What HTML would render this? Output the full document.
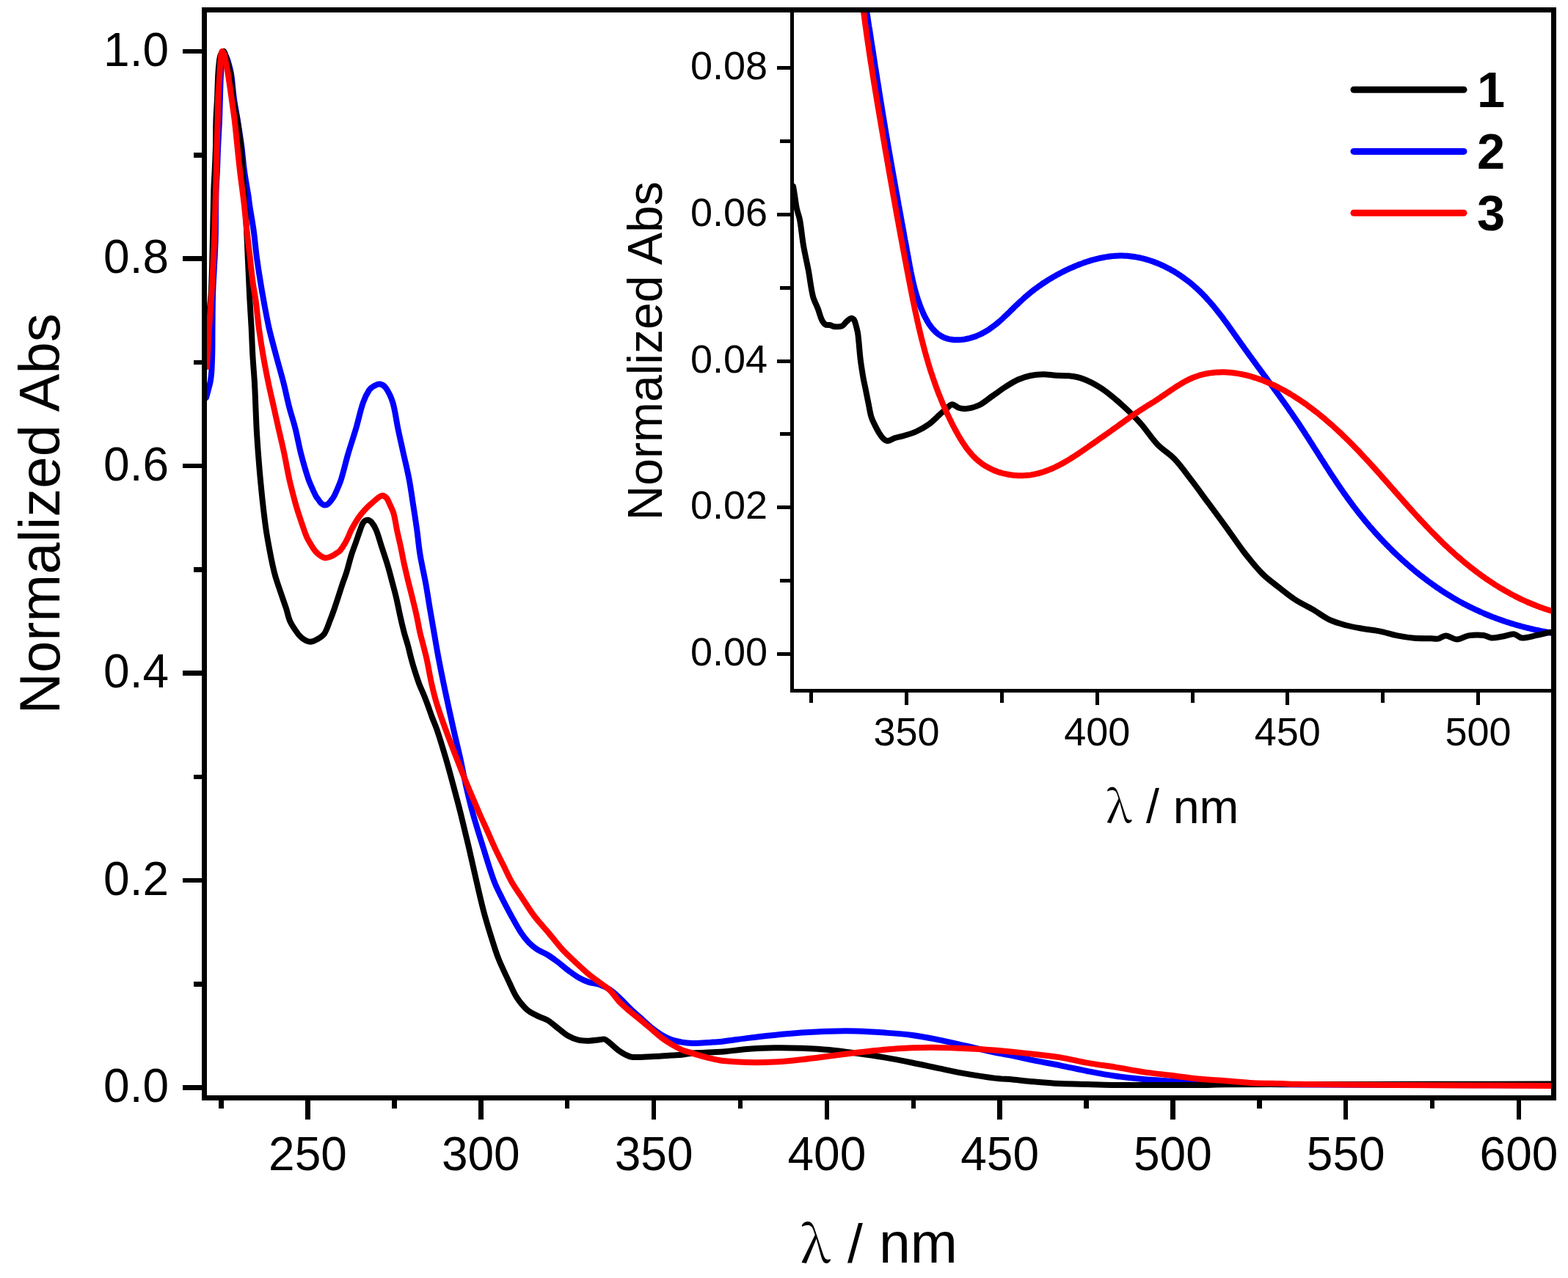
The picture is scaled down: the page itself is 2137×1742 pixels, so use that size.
<!DOCTYPE html>
<html><head><meta charset="utf-8"><style>html,body{margin:0;padding:0;background:#fff;overflow:hidden}svg{display:block}</style></head>
<body>
<svg width="2137" height="1742" viewBox="0 0 2137 1742">
<rect x="0" y="0" width="2137" height="1742" fill="#fff"/>
<defs><clipPath id="cm"><rect x="282" y="17" width="1832" height="1476"/></clipPath>
<clipPath id="ci"><rect x="1082" y="17" width="1032" height="922"/></clipPath></defs>
<g clip-path="url(#cm)" fill="none" stroke-linejoin="round" stroke-linecap="round">
<path d="M281.0,542.0 C281.5,540.3 282.0,538.7 282.4,537.0 C283.9,531.3 285.6,525.7 286.7,520.0 C287.6,515.1 288.1,510.0 288.4,505.0 C288.9,496.7 289.1,488.3 289.3,480.0 C289.5,470.0 289.4,460.0 289.5,450.0 C289.7,432.8 289.6,415.7 290.2,398.5 C291.0,375.3 292.9,352.2 293.6,329.0 C294.3,306.0 293.9,283.0 294.5,260.0 C294.7,251.2 295.5,242.5 295.9,233.7 C296.4,222.2 296.7,210.6 297.2,199.1 C297.7,187.6 298.5,176.1 299.0,164.6 C299.4,154.7 299.6,144.9 299.9,135.0 C300.2,125.0 300.3,115.0 300.8,105.0 C301.1,98.3 301.5,91.6 302.5,85.0 C303.1,81.1 304.1,75.8 305.5,73.5 C305.9,72.8 307.2,75.0 307.7,76.0 C308.8,78.1 309.8,80.3 310.5,82.6 C312.3,88.7 314.1,94.8 315.1,101.1 C316.9,112.3 317.4,123.7 319.0,135.0 C320.4,144.9 322.4,154.7 324.0,164.6 C325.8,176.1 327.7,187.6 329.2,199.1 C330.7,210.6 331.5,222.2 333.1,233.7 C334.7,245.2 336.9,256.7 338.7,268.2 C339.3,272.1 339.6,276.1 340.2,280.0 C342.0,291.7 344.2,303.3 345.8,315.0 C347.4,326.6 348.3,338.4 349.8,350.0 C351.4,361.7 353.2,373.3 355.1,385.0 C356.4,393.3 357.9,401.7 359.4,410.0 C361.7,422.5 363.9,435.1 366.7,447.5 C369.6,460.1 373.1,472.5 376.4,485.0 C379.7,497.5 383.4,509.9 386.6,522.5 C389.4,533.6 391.6,544.9 394.5,556.0 C396.9,565.3 400.1,574.4 402.4,583.7 C405.3,595.1 407.2,606.7 410.1,618.0 C413.1,629.7 416.4,641.4 420.2,652.8 C422.2,658.7 425.0,664.3 427.5,670.0 C428.6,672.4 429.7,674.8 431.0,677.0 C431.9,678.6 433.2,680.0 434.3,681.5 C435.5,683.1 436.5,684.9 438.0,686.2 C439.3,687.3 441.0,688.4 442.5,688.5 C444.0,688.6 445.8,687.9 447.0,687.0 C448.9,685.6 450.3,683.4 451.8,681.5 C453.0,680.0 454.1,678.5 455.0,676.9 C456.3,674.7 457.3,672.4 458.3,670.0 C460.7,664.3 463.3,658.7 465.1,652.8 C468.7,641.3 471.2,629.5 474.6,618.0 C478.0,606.5 481.9,595.2 485.3,583.7 C488.7,572.2 490.9,560.3 494.8,549.0 C496.9,543.0 499.7,537.0 503.1,531.8 C504.7,529.3 507.4,527.4 510.0,526.0 C512.3,524.7 515.4,523.0 517.8,523.5 C520.7,524.0 524.2,526.4 526.0,529.0 C530.1,534.9 533.3,542.0 535.4,549.0 C538.7,560.2 539.9,572.2 542.3,583.7 C544.7,595.2 547.3,606.6 549.8,618.0 C552.4,629.6 555.3,641.1 557.5,652.8 C559.7,664.3 561.2,675.9 563.0,687.4 C564.8,698.9 566.6,710.4 568.2,722.0 C569.8,733.5 570.7,745.1 572.6,756.5 C574.7,769.3 577.8,781.9 580.1,794.6 C582.2,806.1 583.9,817.6 585.8,829.1 C587.8,840.6 589.8,852.2 591.8,863.7 C593.8,875.2 595.7,886.7 597.9,898.2 C600.1,909.8 602.4,921.3 604.8,932.8 C606.7,941.9 608.6,950.9 610.6,960.0 C613.3,972.3 615.9,984.6 618.7,996.9 C621.5,1009.2 624.6,1021.4 627.3,1033.7 C630.0,1046.0 632.2,1058.4 635.0,1070.6 C637.8,1083.0 640.7,1095.3 644.1,1107.5 C648.6,1123.8 653.7,1140.0 658.8,1156.1 C663.6,1171.5 668.1,1187.1 673.8,1202.2 C676.8,1210.1 680.9,1217.6 684.7,1225.2 C688.6,1232.9 692.6,1240.6 696.8,1248.2 C701.1,1256.0 705.2,1263.9 710.1,1271.3 C713.3,1276.2 717.0,1280.8 721.0,1285.0 C724.4,1288.5 728.4,1291.6 732.5,1294.3 C736.8,1297.1 741.9,1298.8 746.3,1301.5 C751.2,1304.5 755.8,1308.0 760.4,1311.4 C765.2,1315.0 769.7,1319.1 774.5,1322.7 C779.1,1326.1 783.7,1329.7 788.6,1332.5 C793.1,1335.1 797.8,1337.3 802.7,1338.9 C807.2,1340.4 812.3,1340.4 816.8,1342.0 C821.7,1343.7 826.5,1345.9 830.8,1348.7 C835.9,1352.1 840.4,1356.5 844.9,1360.7 C849.8,1365.2 854.2,1370.2 859.0,1374.8 C863.6,1379.2 868.4,1383.3 873.1,1387.5 C877.8,1391.8 882.3,1396.3 887.2,1400.3 C891.7,1403.9 896.4,1407.3 901.3,1410.3 C905.8,1413.0 910.5,1415.5 915.4,1417.3 C919.9,1418.9 924.7,1419.8 929.4,1420.6 C934.0,1421.4 938.8,1421.8 943.5,1422.0 C948.2,1422.1 952.9,1421.7 957.6,1421.5 C962.3,1421.3 967.0,1420.9 971.7,1420.6 C976.4,1420.3 981.1,1420.1 985.8,1419.5 C996.4,1418.2 1007.0,1416.4 1017.6,1415.1 C1030.1,1413.6 1042.6,1412.2 1055.1,1411.0 C1067.6,1409.7 1080.1,1408.5 1092.7,1407.6 C1105.2,1406.7 1117.7,1406.0 1130.2,1405.7 C1142.7,1405.3 1155.3,1405.2 1167.8,1405.5 C1180.3,1405.8 1192.9,1406.7 1205.4,1407.6 C1217.9,1408.5 1230.5,1409.3 1242.9,1411.0 C1255.5,1412.7 1268.0,1415.1 1280.5,1417.6 C1293.1,1420.1 1305.5,1423.2 1318.0,1426.0 C1330.5,1428.8 1343.0,1431.9 1355.6,1434.5 C1363.7,1436.2 1371.9,1437.3 1380.0,1439.0 C1389.2,1440.9 1398.4,1443.3 1407.6,1445.2 C1420.1,1447.7 1432.6,1449.8 1445.1,1452.3 C1457.7,1454.8 1470.1,1457.8 1482.7,1460.2 C1495.2,1462.6 1507.6,1465.0 1520.2,1466.8 C1532.7,1468.6 1545.2,1470.0 1557.8,1471.1 C1570.3,1472.2 1582.9,1472.8 1595.4,1473.5 C1607.9,1474.2 1620.4,1475.0 1632.9,1475.5 C1655.3,1476.4 1677.6,1477.1 1700.0,1477.5 C1733.3,1478.1 1766.7,1478.4 1800.0,1478.6 C1906.0,1479.1 2012.0,1479.2 2118.0,1479.5" stroke="#00f" stroke-width="8"/>
<path d="M281.0,490.0 C282.2,473.3 283.3,456.7 284.5,440.0 C285.0,433.0 285.4,426.0 286.0,419.0 C286.5,412.2 287.5,405.3 287.8,398.5 C288.6,381.2 289.1,363.9 289.5,346.6 C290.2,317.7 290.5,288.9 291.3,260.0 C291.6,250.0 292.4,240.0 292.8,230.0 C293.3,219.7 293.7,209.3 294.0,199.0 C294.3,187.5 294.0,176.1 294.4,164.6 C294.7,154.7 295.5,144.9 296.0,135.0 C296.5,123.7 296.7,112.3 297.3,101.0 C297.6,95.0 298.1,89.0 298.9,83.0 C299.3,80.0 299.7,76.7 301.0,74.0 C301.8,72.4 304.1,69.3 305.0,70.0 C306.7,71.3 307.6,76.6 308.6,80.0 C310.7,87.0 313.0,93.9 314.2,101.1 C316.1,112.3 316.2,123.8 317.9,135.0 C319.4,144.9 322.0,154.7 323.6,164.6 C325.5,176.1 327.1,187.6 328.3,199.1 C329.4,210.6 329.7,222.2 330.5,233.7 C331.3,245.2 332.2,256.7 333.1,268.2 C333.7,275.5 334.3,282.7 334.8,290.0 C335.3,298.3 335.7,306.7 336.1,315.0 C336.7,326.7 337.2,338.3 337.7,350.0 C338.2,361.7 338.8,373.3 339.3,385.0 C339.7,393.3 340.0,401.7 340.5,410.0 C341.2,422.5 342.0,435.0 342.7,447.5 C343.3,460.0 343.7,472.5 344.4,485.0 C345.1,497.5 346.3,510.0 347.0,522.5 C347.7,535.0 348.1,547.5 348.6,560.0 C348.9,567.9 349.2,575.8 349.6,583.7 C350.3,595.1 351.0,606.6 351.9,618.0 C352.8,629.6 353.7,641.2 354.8,652.8 C355.9,664.3 357.0,675.9 358.3,687.4 C359.6,698.9 360.9,710.5 362.6,722.0 C364.3,733.5 366.5,745.0 368.7,756.5 C370.2,764.4 371.9,772.2 373.8,780.0 C375.0,784.9 376.5,789.8 378.1,794.6 C381.9,806.1 386.1,817.6 389.9,829.1 C391.8,834.8 392.7,840.9 395.1,846.4 C397.4,851.6 400.7,856.4 404.0,861.0 C406.3,864.3 408.8,867.7 412.0,870.0 C415.1,872.2 419.1,874.5 422.7,874.7 C426.1,874.9 429.9,872.8 433.0,871.0 C436.3,869.1 440.0,866.8 442.1,863.7 C445.5,858.6 447.2,852.2 449.5,846.4 C451.8,840.7 453.9,834.9 455.9,829.1 C459.8,817.7 463.4,806.1 467.2,794.6 C468.8,789.7 470.8,784.9 472.3,780.0 C474.7,772.2 476.5,764.3 478.9,756.5 C480.7,750.7 483.0,745.0 485.0,739.2 C487.0,733.5 488.9,727.7 491.0,722.0 C492.2,718.8 493.0,715.1 495.0,712.5 C496.3,710.7 498.8,708.9 500.8,708.8 C502.7,708.7 505.1,710.4 506.5,712.0 C509.2,715.1 511.3,719.1 512.9,723.0 C515.9,730.5 517.9,738.4 520.4,746.1 C522.9,753.8 525.6,761.4 527.9,769.2 C530.2,776.8 532.2,784.5 534.2,792.2 C536.3,799.9 538.4,807.6 540.2,815.3 C542.0,822.9 543.4,830.7 545.1,838.3 C546.8,846.0 548.6,853.7 550.6,861.4 C552.2,867.6 554.3,873.8 556.0,880.0 C557.6,886.0 558.9,892.0 560.5,898.0 C562.0,903.7 563.7,909.4 565.5,915.0 C567.4,921.0 569.3,926.9 571.5,932.8 C573.5,937.9 575.9,942.9 578.0,948.0 C579.6,952.0 581.1,956.0 582.6,960.0 C584.8,966.0 586.8,972.0 589.0,978.0 C591.4,984.3 594.2,990.5 596.3,996.9 C600.4,1009.1 604.0,1021.4 607.6,1033.7 C611.2,1045.9 614.5,1058.3 617.8,1070.6 C621.1,1082.9 624.4,1095.2 627.5,1107.5 C631.5,1123.7 635.4,1139.9 639.2,1156.1 C642.8,1171.4 646.0,1186.9 649.6,1202.2 C653.2,1217.6 656.6,1233.0 660.8,1248.2 C665.1,1263.7 670.0,1279.0 674.9,1294.3 C676.6,1299.6 678.5,1304.9 680.7,1310.0 C685.0,1320.1 689.8,1330.1 694.5,1340.0 C697.6,1346.5 700.2,1353.3 704.1,1359.3 C708.1,1365.4 712.8,1371.4 718.2,1376.2 C722.2,1379.8 727.4,1382.1 732.3,1384.6 C736.8,1386.9 742.0,1388.0 746.3,1390.6 C751.4,1393.6 755.7,1397.9 760.4,1401.5 C765.1,1405.1 769.4,1409.2 774.5,1412.1 C778.8,1414.6 783.7,1416.6 788.6,1417.7 C793.1,1418.8 798.0,1418.8 802.7,1418.7 C807.4,1418.6 812.1,1417.8 816.8,1417.3 C819.1,1417.1 821.7,1415.9 823.8,1416.5 C826.3,1417.2 828.6,1419.5 830.8,1421.3 C835.6,1425.1 839.8,1429.8 844.9,1433.2 C849.2,1436.1 854.0,1438.9 859.0,1440.3 C863.4,1441.5 868.4,1441.0 873.1,1441.0 C877.8,1441.0 882.5,1440.5 887.2,1440.3 C891.9,1440.1 896.6,1439.9 901.3,1439.6 C906.0,1439.3 910.7,1438.8 915.4,1438.5 C920.1,1438.2 924.8,1438.2 929.4,1437.7 C934.1,1437.2 938.8,1436.0 943.5,1435.5 C948.2,1435.0 952.9,1435.1 957.6,1434.9 C962.3,1434.7 967.0,1434.4 971.7,1434.2 C976.4,1434.0 981.1,1433.9 985.8,1433.5 C996.4,1432.6 1007.0,1430.9 1017.6,1430.1 C1030.1,1429.2 1042.6,1428.5 1055.1,1428.3 C1067.6,1428.1 1080.2,1428.3 1092.7,1428.8 C1105.2,1429.3 1117.7,1429.9 1130.2,1431.1 C1142.8,1432.3 1155.3,1434.1 1167.8,1435.8 C1180.4,1437.5 1192.9,1439.3 1205.4,1441.4 C1217.9,1443.5 1230.4,1446.0 1242.9,1448.5 C1255.5,1451.0 1268.0,1453.8 1280.5,1456.4 C1293.0,1459.0 1305.4,1461.7 1318.0,1463.9 C1330.5,1466.1 1343.0,1468.1 1355.6,1469.6 C1363.7,1470.6 1371.9,1470.8 1380.0,1471.5 C1389.2,1472.3 1398.4,1473.5 1407.6,1474.3 C1420.1,1475.4 1432.6,1476.5 1445.1,1477.1 C1457.6,1477.7 1470.2,1477.7 1482.7,1478.0 C1495.2,1478.3 1507.7,1478.8 1520.2,1479.0 C1532.7,1479.2 1545.3,1479.0 1557.8,1479.0 C1570.3,1479.0 1582.9,1479.0 1595.4,1479.0 C1607.9,1479.0 1620.4,1479.1 1632.9,1479.0 C1645.4,1478.9 1658.0,1478.4 1670.5,1478.3 C1713.7,1478.0 1756.8,1478.1 1800.0,1478.0 C1850.0,1477.9 1900.0,1477.9 1950.0,1477.8 C2006.0,1477.7 2062.0,1477.6 2118.0,1477.5" stroke="#000" stroke-width="8"/>
<path d="M282.0,500.0 C282.6,489.3 283.2,478.5 283.8,467.8 C284.5,456.3 285.1,444.7 285.9,433.2 C286.7,421.6 287.8,410.1 288.5,398.5 C289.9,375.3 291.0,352.2 292.0,329.0 C292.8,308.7 293.3,288.3 293.9,268.0 C294.2,256.6 294.5,245.1 294.8,233.7 C295.1,222.2 295.3,210.6 295.6,199.1 C295.9,187.6 296.4,176.1 296.7,164.6 C296.9,154.7 296.8,144.9 297.2,135.0 C297.7,123.7 298.7,112.3 299.4,101.0 C299.8,95.0 299.9,89.0 300.5,83.0 C300.9,78.7 301.3,72.3 302.5,70.1 C303.0,69.3 304.9,72.5 305.5,74.0 C306.6,76.8 306.9,80.0 307.5,83.0 C308.7,89.0 309.8,95.0 310.8,101.0 C312.4,111.3 313.8,121.7 315.3,132.0 C316.8,142.9 318.5,153.7 319.8,164.6 C321.2,176.1 322.2,187.6 323.4,199.1 C324.6,210.6 325.7,222.2 327.1,233.7 C328.4,245.2 330.1,256.7 331.5,268.2 C332.0,272.1 332.5,276.1 332.9,280.0 C334.1,291.7 335.2,303.3 336.5,315.0 C337.8,326.7 339.2,338.3 340.6,350.0 C341.9,361.7 343.0,373.4 344.6,385.0 C345.7,393.4 347.5,401.6 348.6,410.0 C350.3,422.5 351.2,435.0 352.9,447.5 C354.6,460.0 356.5,472.5 358.7,485.0 C360.9,497.5 363.3,510.0 365.9,522.5 C367.7,531.4 369.8,540.2 371.8,549.0 C374.4,560.6 376.9,572.1 379.5,583.7 C382.1,595.1 384.9,606.5 387.3,618.0 C389.8,629.6 391.6,641.3 394.2,652.8 C396.8,664.4 399.9,675.9 403.0,687.4 C404.6,693.3 406.6,699.2 408.5,705.0 C410.4,710.7 412.3,716.4 414.3,722.0 C415.5,725.4 416.6,728.9 418.1,732.2 C419.6,735.4 421.4,738.4 423.2,741.4 C425.1,744.5 426.9,747.8 429.2,750.6 C431.2,753.0 433.5,755.3 436.0,757.0 C438.2,758.6 440.9,760.2 443.5,760.5 C445.9,760.7 448.6,759.5 451.0,758.5 C453.5,757.5 455.7,755.9 458.0,754.5 C459.8,753.3 461.9,752.2 463.3,750.6 C465.8,747.8 467.8,744.6 469.7,741.4 C471.5,738.4 473.0,735.2 474.5,732.0 C476.1,728.7 477.2,725.2 478.9,722.0 C482.1,716.1 485.4,710.1 489.3,704.6 C492.5,700.1 496.2,696.0 500.0,692.0 C503.1,688.8 506.5,685.8 510.0,683.0 C513.3,680.3 516.8,676.4 520.4,675.6 C522.5,675.1 525.4,677.2 527.0,679.0 C529.1,681.4 530.1,684.9 531.5,688.0 C533.3,691.9 535.4,695.8 536.5,700.0 C538.6,707.5 539.5,715.4 541.1,723.0 C542.7,730.7 544.7,738.4 546.3,746.1 C547.9,753.8 549.2,761.5 550.9,769.2 C552.6,776.9 554.4,784.5 556.3,792.2 C558.2,799.9 560.2,807.6 562.1,815.3 C564.0,823.0 565.9,830.6 567.6,838.3 C569.3,846.0 570.5,853.7 572.2,861.4 C573.6,867.6 575.4,873.8 577.0,880.0 C578.5,886.1 580.2,892.1 581.5,898.2 C584.0,909.7 585.8,921.3 588.4,932.8 C590.5,941.9 592.7,951.1 595.5,960.0 C599.4,972.4 603.8,984.7 608.3,996.9 C612.8,1009.2 617.6,1021.5 622.4,1033.7 C627.2,1046.0 632.1,1058.4 637.1,1070.6 C642.2,1083.0 647.5,1095.2 652.8,1107.5 C656.1,1115.0 659.6,1122.5 663.0,1130.0 C666.9,1138.7 670.6,1147.5 674.6,1156.1 C678.2,1163.8 682.1,1171.4 685.9,1179.1 C689.7,1186.8 693.1,1194.8 697.4,1202.2 C702.0,1210.1 707.3,1217.6 712.4,1225.2 C717.5,1232.9 722.3,1240.9 727.9,1248.2 C734.0,1256.2 741.0,1263.6 747.5,1271.3 C753.9,1278.9 759.8,1286.9 766.5,1294.3 C771.5,1299.8 777.1,1304.9 782.6,1310.0 C789.2,1316.2 795.8,1322.5 802.7,1328.3 C807.2,1332.1 812.1,1335.4 816.8,1338.9 C821.5,1342.4 826.7,1345.4 830.8,1349.4 C836.0,1354.5 839.9,1361.0 844.9,1366.3 C849.3,1370.9 854.2,1374.9 859.0,1379.0 C863.6,1382.9 868.5,1386.5 873.1,1390.3 C877.9,1394.2 882.5,1398.3 887.2,1402.3 C891.9,1406.3 896.4,1410.5 901.3,1414.2 C905.8,1417.6 910.6,1420.8 915.4,1423.7 C919.9,1426.4 924.6,1429.0 929.4,1431.1 C933.9,1433.0 938.8,1434.1 943.5,1435.6 C948.2,1437.1 952.9,1438.6 957.6,1439.9 C962.3,1441.2 967.0,1442.4 971.7,1443.4 C976.4,1444.4 981.1,1445.5 985.8,1446.0 C996.4,1447.1 1007.0,1447.8 1017.6,1448.0 C1030.1,1448.3 1042.6,1448.2 1055.1,1447.6 C1067.7,1447.0 1080.2,1445.5 1092.7,1444.2 C1105.2,1442.8 1117.7,1441.1 1130.2,1439.5 C1142.7,1437.9 1155.3,1436.3 1167.8,1434.8 C1180.3,1433.3 1192.8,1431.8 1205.4,1430.7 C1217.9,1429.6 1230.4,1428.8 1242.9,1428.3 C1255.4,1427.8 1268.0,1427.7 1280.5,1427.9 C1293.0,1428.0 1305.5,1428.6 1318.0,1429.2 C1330.5,1429.8 1343.1,1430.5 1355.6,1431.5 C1373.0,1433.0 1390.3,1434.8 1407.6,1436.7 C1420.1,1438.1 1432.7,1439.4 1445.1,1441.4 C1457.7,1443.4 1470.1,1446.7 1482.7,1448.9 C1495.1,1451.1 1507.7,1452.6 1520.2,1454.6 C1532.8,1456.6 1545.2,1459.2 1557.8,1461.1 C1570.3,1463.0 1582.9,1464.2 1595.4,1465.8 C1607.9,1467.4 1620.4,1469.2 1632.9,1470.5 C1645.4,1471.7 1658.0,1472.3 1670.5,1473.3 C1683.0,1474.2 1695.5,1475.6 1708.0,1476.2 C1720.5,1476.8 1733.1,1476.8 1745.6,1477.1 C1753.7,1477.3 1761.9,1477.7 1770.0,1477.8 C1813.3,1478.3 1856.7,1478.7 1900.0,1479.0 C1972.7,1479.4 2045.3,1479.6 2118.0,1479.9" stroke="#f00" stroke-width="8"/>
</g>
<rect x="1079.5" y="13.5" width="1037.5" height="928" fill="#fff"/>
<g clip-path="url(#ci)" fill="none" stroke-linejoin="round" stroke-linecap="round">
<path d="M1180.0,8.0 C1180.2,9.3 1180.4,10.6 1180.6,12.0 C1180.8,13.3 1181.0,14.6 1181.3,15.9 C1181.5,17.3 1181.7,18.6 1181.9,19.9 C1182.1,21.2 1182.3,22.6 1182.5,23.9 C1182.7,25.2 1182.9,26.5 1183.1,27.9 C1183.3,29.2 1183.5,30.5 1183.7,31.8 C1183.9,33.1 1184.1,34.5 1184.3,35.8 C1184.6,37.1 1184.8,38.4 1185.0,39.7 C1185.2,41.1 1185.4,42.4 1185.6,43.7 C1185.8,45.0 1186.0,46.3 1186.2,47.7 C1186.4,49.0 1186.6,50.3 1186.8,51.6 C1187.0,52.9 1187.2,54.3 1187.4,55.6 C1187.6,56.9 1187.8,58.2 1188.0,59.5 C1188.2,60.8 1188.4,62.2 1188.7,63.5 C1188.9,64.8 1189.1,66.1 1189.3,67.4 C1189.5,68.7 1189.7,70.1 1189.9,71.4 C1190.1,72.7 1190.3,74.0 1190.5,75.3 C1190.7,76.6 1190.9,78.0 1191.1,79.3 C1191.3,80.6 1191.5,81.9 1191.7,83.2 C1191.9,84.5 1192.1,85.8 1192.3,87.2 C1192.5,88.5 1192.7,89.8 1192.9,91.1 C1193.2,92.4 1193.4,93.7 1193.6,95.0 C1193.8,96.4 1194.0,97.7 1194.2,99.0 C1194.4,100.3 1194.6,101.6 1194.8,102.9 C1195.0,104.2 1195.2,105.5 1195.4,106.9 C1195.6,108.2 1195.8,109.5 1196.0,110.8 C1196.2,112.1 1196.5,113.4 1196.7,114.7 C1196.9,116.0 1197.1,117.4 1197.3,118.7 C1197.5,120.0 1197.7,121.3 1197.9,122.6 C1198.1,123.9 1198.3,125.2 1198.5,126.5 C1198.7,127.8 1198.9,129.2 1199.2,130.5 C1199.4,131.8 1199.6,133.1 1199.8,134.4 C1200.0,135.7 1200.2,137.0 1200.4,138.3 C1200.6,139.6 1200.8,140.9 1201.1,142.2 C1201.3,143.6 1201.5,144.9 1201.7,146.2 C1201.9,147.5 1202.1,148.8 1202.3,150.1 C1202.5,151.4 1202.7,152.7 1203.0,154.0 C1203.2,155.3 1203.4,156.6 1203.6,158.0 C1203.8,159.3 1204.0,160.6 1204.3,161.9 C1204.5,163.2 1204.7,164.5 1204.9,165.8 C1205.1,167.1 1205.3,168.4 1205.6,169.7 C1205.8,171.0 1206.0,172.4 1206.2,173.7 C1206.4,175.0 1206.6,176.3 1206.9,177.6 C1207.1,178.9 1207.3,180.2 1207.5,181.5 C1207.7,182.8 1208.0,184.1 1208.2,185.4 C1208.4,186.7 1208.6,188.0 1208.9,189.4 C1209.1,190.7 1209.3,192.0 1209.5,193.3 C1209.7,194.6 1210.0,195.9 1210.2,197.2 C1210.4,198.5 1210.6,199.8 1210.9,201.1 C1211.1,202.4 1211.3,203.7 1211.5,205.0 C1211.8,206.4 1212.0,207.7 1212.2,209.0 C1212.5,210.3 1212.7,211.6 1212.9,212.9 C1213.1,214.2 1213.4,215.5 1213.6,216.8 C1213.8,218.1 1214.1,219.4 1214.3,220.7 C1214.5,222.0 1214.7,223.3 1215.0,224.7 C1215.2,226.0 1215.4,227.3 1215.7,228.6 C1215.9,229.9 1216.1,231.2 1216.4,232.5 C1216.6,233.8 1216.8,235.1 1217.1,236.4 C1217.3,237.7 1217.5,239.0 1217.8,240.4 C1218.0,241.7 1218.2,243.0 1218.5,244.3 C1218.7,245.6 1218.9,246.9 1219.2,248.2 C1219.4,249.5 1219.6,250.8 1219.9,252.1 C1220.1,253.4 1220.3,254.7 1220.6,256.0 C1220.8,257.4 1221.0,258.7 1221.3,260.0 C1221.5,261.3 1221.7,262.6 1222.0,263.9 C1222.2,265.2 1222.5,266.5 1222.7,267.8 C1222.9,269.1 1223.2,270.4 1223.4,271.8 C1223.6,273.1 1223.9,274.4 1224.1,275.7 C1224.3,277.0 1224.6,278.3 1224.8,279.6 C1225.1,280.9 1225.3,282.2 1225.5,283.5 C1225.8,284.9 1226.0,286.2 1226.3,287.5 C1226.5,288.8 1226.7,290.1 1227.0,291.4 C1227.2,292.7 1227.4,294.0 1227.7,295.3 C1227.9,296.7 1228.2,298.0 1228.4,299.3 C1228.6,300.6 1228.9,301.9 1229.1,303.2 C1229.4,304.5 1229.6,305.8 1229.8,307.1 C1230.1,308.5 1230.3,309.8 1230.6,311.1 C1230.8,312.4 1231.0,313.7 1231.3,315.0 C1231.5,316.3 1231.8,317.6 1232.0,319.0 C1232.2,320.3 1232.5,321.6 1232.7,322.9 C1233.0,324.2 1233.2,325.5 1233.4,326.8 C1233.7,328.1 1233.9,329.5 1234.2,330.8 C1234.4,332.1 1234.6,333.4 1234.9,334.7 C1235.1,336.0 1235.4,337.4 1235.6,338.7 C1235.8,340.0 1236.1,341.3 1236.3,342.6 C1236.6,343.9 1236.8,345.2 1237.0,346.6 C1237.3,347.9 1237.5,349.2 1237.8,350.5 C1238.0,351.8 1238.2,353.1 1238.5,354.5 C1238.7,355.8 1238.9,357.1 1239.2,358.4 C1239.4,359.7 1239.7,361.0 1239.9,362.4 C1240.2,363.7 1240.4,365.0 1240.7,366.3 C1240.9,367.6 1241.2,368.9 1241.4,370.3 C1241.7,371.6 1242.0,372.9 1242.2,374.2 C1242.5,375.5 1242.8,376.8 1243.1,378.1 C1243.3,379.5 1243.6,380.8 1243.9,382.1 C1244.2,383.4 1244.5,384.7 1244.8,386.0 C1245.1,387.3 1245.5,388.6 1245.8,389.9 C1246.1,391.2 1246.4,392.6 1246.8,393.9 C1247.1,395.2 1247.5,396.5 1247.8,397.8 C1248.2,399.1 1248.6,400.4 1249.0,401.7 C1249.4,403.0 1249.8,404.3 1250.2,405.6 C1250.6,406.9 1251.0,408.2 1251.4,409.4 C1251.9,410.7 1252.3,412.0 1252.8,413.3 C1253.2,414.6 1253.7,415.9 1254.2,417.2 C1254.7,418.4 1255.2,419.7 1255.7,421.0 C1256.2,422.3 1256.8,423.6 1257.3,424.8 C1257.9,426.1 1258.4,427.4 1259.0,428.6 C1259.6,429.9 1260.2,431.1 1260.8,432.3 C1261.5,433.5 1262.1,434.7 1262.8,435.9 C1263.4,437.1 1264.1,438.3 1264.8,439.4 C1265.5,440.6 1266.2,441.7 1267.0,442.8 C1267.7,443.8 1268.5,444.9 1269.3,445.9 C1270.1,446.9 1270.9,447.9 1271.7,448.9 C1272.6,449.8 1273.4,450.8 1274.3,451.6 C1275.2,452.5 1276.1,453.3 1277.0,454.1 C1278.0,454.9 1278.9,455.6 1279.9,456.3 C1280.9,457.0 1281.9,457.6 1283.0,458.2 C1284.0,458.8 1285.1,459.3 1286.2,459.8 C1287.3,460.3 1288.4,460.7 1289.5,461.1 C1290.7,461.4 1291.8,461.8 1293.0,462.1 C1294.2,462.3 1295.4,462.6 1296.6,462.7 C1297.8,462.9 1299.0,463.1 1300.3,463.2 C1301.5,463.3 1302.7,463.3 1304.0,463.3 C1305.3,463.3 1306.5,463.3 1307.8,463.2 C1309.1,463.2 1310.4,463.1 1311.6,462.9 C1312.9,462.7 1314.2,462.6 1315.5,462.3 C1316.8,462.1 1318.1,461.8 1319.4,461.5 C1320.7,461.2 1322.0,460.9 1323.2,460.5 C1324.5,460.2 1325.8,459.8 1327.1,459.3 C1328.3,458.9 1329.6,458.4 1330.9,457.9 C1332.1,457.4 1333.4,456.9 1334.6,456.4 C1335.8,455.8 1337.1,455.2 1338.3,454.6 C1339.5,454.0 1340.7,453.4 1341.8,452.7 C1343.0,452.0 1344.2,451.3 1345.3,450.6 C1346.5,449.9 1347.6,449.2 1348.7,448.4 C1349.8,447.7 1350.9,446.9 1352.0,446.1 C1353.1,445.3 1354.2,444.5 1355.2,443.7 C1356.3,442.9 1357.4,442.0 1358.4,441.2 C1359.5,440.3 1360.5,439.4 1361.5,438.5 C1362.6,437.7 1363.6,436.8 1364.6,435.9 C1365.6,434.9 1366.6,434.0 1367.6,433.1 C1368.6,432.2 1369.6,431.2 1370.6,430.3 C1371.6,429.4 1372.6,428.4 1373.6,427.5 C1374.5,426.5 1375.5,425.5 1376.5,424.6 C1377.5,423.6 1378.4,422.7 1379.4,421.7 C1380.4,420.8 1381.4,419.8 1382.3,418.8 C1383.3,417.9 1384.3,416.9 1385.3,416.0 C1386.3,415.0 1387.2,414.1 1388.2,413.1 C1389.2,412.2 1390.2,411.3 1391.2,410.4 C1392.2,409.4 1393.2,408.5 1394.2,407.6 C1395.2,406.7 1396.2,405.8 1397.2,404.9 C1398.2,404.0 1399.3,403.2 1400.3,402.3 C1401.3,401.4 1402.3,400.6 1403.4,399.7 C1404.4,398.9 1405.5,398.0 1406.5,397.2 C1407.6,396.4 1408.6,395.6 1409.7,394.7 C1410.7,393.9 1411.8,393.1 1412.9,392.4 C1413.9,391.6 1415.0,390.8 1416.1,390.0 C1417.2,389.2 1418.3,388.5 1419.4,387.7 C1420.4,387.0 1421.5,386.2 1422.7,385.5 C1423.8,384.8 1424.9,384.0 1426.0,383.3 C1427.1,382.6 1428.2,381.9 1429.3,381.2 C1430.5,380.5 1431.6,379.8 1432.7,379.2 C1433.9,378.5 1435.0,377.8 1436.2,377.1 C1437.3,376.5 1438.5,375.8 1439.6,375.2 C1440.8,374.6 1441.9,373.9 1443.1,373.3 C1444.3,372.7 1445.4,372.1 1446.6,371.5 C1447.8,370.9 1449.0,370.3 1450.2,369.7 C1451.3,369.1 1452.5,368.5 1453.7,367.9 C1454.9,367.4 1456.1,366.8 1457.3,366.3 C1458.6,365.7 1459.8,365.2 1461.0,364.6 C1462.2,364.1 1463.4,363.6 1464.7,363.0 C1465.9,362.5 1467.1,362.0 1468.4,361.5 C1469.6,361.0 1470.8,360.5 1472.1,360.1 C1473.3,359.6 1474.6,359.1 1475.8,358.7 C1477.1,358.2 1478.4,357.8 1479.6,357.3 C1480.9,356.9 1482.1,356.5 1483.4,356.1 C1484.7,355.7 1486.0,355.3 1487.2,354.9 C1488.5,354.5 1489.8,354.2 1491.1,353.8 C1492.4,353.5 1493.6,353.1 1494.9,352.8 C1496.2,352.5 1497.5,352.2 1498.8,351.9 C1500.1,351.6 1501.4,351.4 1502.7,351.1 C1504.0,350.9 1505.3,350.6 1506.6,350.4 C1507.9,350.2 1509.2,350.0 1510.5,349.8 C1511.8,349.6 1513.1,349.5 1514.4,349.3 C1515.7,349.2 1517.0,349.1 1518.3,348.9 C1519.7,348.8 1521.0,348.8 1522.3,348.7 C1523.6,348.6 1524.9,348.6 1526.2,348.6 C1527.5,348.6 1528.8,348.6 1530.2,348.6 C1531.5,348.6 1532.8,348.7 1534.1,348.7 C1535.4,348.8 1536.7,348.9 1538.0,349.0 C1539.3,349.1 1540.6,349.3 1542.0,349.4 C1543.3,349.6 1544.6,349.8 1545.9,350.0 C1547.2,350.2 1548.5,350.4 1549.8,350.6 C1551.1,350.9 1552.4,351.1 1553.7,351.4 C1555.0,351.7 1556.3,352.0 1557.6,352.3 C1558.9,352.7 1560.2,353.0 1561.5,353.4 C1562.7,353.7 1564.0,354.1 1565.3,354.5 C1566.6,354.9 1567.9,355.3 1569.1,355.7 C1570.4,356.2 1571.7,356.6 1572.9,357.1 C1574.2,357.5 1575.4,358.0 1576.7,358.5 C1577.9,359.0 1579.2,359.6 1580.4,360.1 C1581.7,360.6 1582.9,361.2 1584.1,361.7 C1585.4,362.3 1586.6,362.9 1587.8,363.5 C1589.0,364.1 1590.2,364.7 1591.4,365.3 C1592.6,365.9 1593.8,366.6 1595.0,367.2 C1596.2,367.9 1597.4,368.6 1598.6,369.2 C1599.7,369.9 1600.9,370.6 1602.1,371.3 C1603.2,372.0 1604.4,372.7 1605.5,373.5 C1606.7,374.2 1607.8,375.0 1608.9,375.7 C1610.0,376.5 1611.1,377.2 1612.2,378.0 C1613.3,378.8 1614.4,379.6 1615.5,380.4 C1616.6,381.2 1617.7,382.0 1618.7,382.8 C1619.8,383.6 1620.9,384.5 1621.9,385.3 C1622.9,386.2 1624.0,387.0 1625.0,387.9 C1626.0,388.7 1627.0,389.6 1628.0,390.5 C1629.0,391.4 1630.0,392.3 1631.0,393.2 C1632.0,394.0 1632.9,395.0 1633.9,395.9 C1634.8,396.8 1635.8,397.7 1636.7,398.6 C1637.7,399.6 1638.6,400.5 1639.5,401.4 C1640.4,402.4 1641.4,403.3 1642.3,404.3 C1643.2,405.3 1644.1,406.2 1644.9,407.2 C1645.8,408.2 1646.7,409.1 1647.6,410.1 C1648.5,411.1 1649.3,412.1 1650.2,413.1 C1651.1,414.1 1651.9,415.1 1652.8,416.1 C1653.6,417.1 1654.4,418.1 1655.3,419.1 C1656.1,420.2 1656.9,421.2 1657.8,422.2 C1658.6,423.2 1659.4,424.3 1660.2,425.3 C1661.0,426.4 1661.9,427.4 1662.7,428.4 C1663.5,429.5 1664.3,430.5 1665.1,431.6 C1665.9,432.6 1666.7,433.7 1667.5,434.8 C1668.2,435.8 1669.0,436.9 1669.8,438.0 C1670.6,439.0 1671.4,440.1 1672.2,441.2 C1672.9,442.2 1673.7,443.3 1674.5,444.4 C1675.3,445.5 1676.0,446.5 1676.8,447.6 C1677.6,448.7 1678.3,449.8 1679.1,450.9 C1679.9,452.0 1680.6,453.0 1681.4,454.1 C1682.2,455.2 1682.9,456.3 1683.7,457.4 C1684.5,458.5 1685.2,459.6 1686.0,460.6 C1686.8,461.7 1687.5,462.8 1688.3,463.9 C1689.1,465.0 1689.9,466.1 1690.6,467.2 C1691.4,468.3 1692.2,469.3 1692.9,470.4 C1693.7,471.5 1694.5,472.6 1695.3,473.7 C1696.0,474.8 1696.8,475.9 1697.6,476.9 C1698.4,478.0 1699.2,479.1 1699.9,480.2 C1700.7,481.3 1701.5,482.4 1702.3,483.4 C1703.1,484.5 1703.9,485.6 1704.7,486.7 C1705.4,487.8 1706.2,488.8 1707.0,489.9 C1707.8,491.0 1708.6,492.1 1709.4,493.1 C1710.2,494.2 1711.0,495.3 1711.8,496.4 C1712.6,497.5 1713.3,498.5 1714.1,499.6 C1714.9,500.7 1715.7,501.8 1716.5,502.8 C1717.3,503.9 1718.1,505.0 1718.9,506.1 C1719.7,507.2 1720.5,508.2 1721.3,509.3 C1722.1,510.4 1722.9,511.5 1723.7,512.5 C1724.5,513.6 1725.3,514.7 1726.1,515.8 C1726.9,516.8 1727.6,517.9 1728.4,519.0 C1729.2,520.1 1730.0,521.2 1730.8,522.2 C1731.6,523.3 1732.4,524.4 1733.2,525.5 C1734.0,526.5 1734.8,527.6 1735.6,528.7 C1736.4,529.8 1737.1,530.9 1737.9,531.9 C1738.7,533.0 1739.5,534.1 1740.3,535.2 C1741.1,536.3 1741.9,537.3 1742.7,538.4 C1743.4,539.5 1744.2,540.6 1745.0,541.7 C1745.8,542.8 1746.6,543.8 1747.3,544.9 C1748.1,546.0 1748.9,547.1 1749.7,548.2 C1750.5,549.3 1751.2,550.4 1752.0,551.4 C1752.8,552.5 1753.5,553.6 1754.3,554.7 C1755.1,555.8 1755.9,556.9 1756.6,558.0 C1757.4,559.1 1758.1,560.2 1758.9,561.3 C1759.7,562.3 1760.4,563.4 1761.2,564.5 C1761.9,565.6 1762.7,566.7 1763.4,567.8 C1764.2,568.9 1764.9,570.0 1765.7,571.1 C1766.4,572.2 1767.2,573.3 1767.9,574.4 C1768.7,575.5 1769.4,576.6 1770.1,577.7 C1770.9,578.8 1771.6,579.9 1772.4,581.1 C1773.1,582.2 1773.8,583.3 1774.5,584.4 C1775.3,585.5 1776.0,586.6 1776.7,587.7 C1777.4,588.8 1778.2,589.9 1778.9,591.0 C1779.6,592.2 1780.3,593.3 1781.0,594.4 C1781.8,595.5 1782.5,596.6 1783.2,597.7 C1783.9,598.8 1784.6,600.0 1785.3,601.1 C1786.0,602.2 1786.8,603.3 1787.5,604.4 C1788.2,605.5 1788.9,606.6 1789.6,607.8 C1790.3,608.9 1791.0,610.0 1791.7,611.1 C1792.4,612.2 1793.2,613.4 1793.9,614.5 C1794.6,615.6 1795.3,616.7 1796.0,617.8 C1796.7,618.9 1797.4,620.1 1798.1,621.2 C1798.8,622.3 1799.5,623.4 1800.2,624.5 C1801.0,625.6 1801.7,626.8 1802.4,627.9 C1803.1,629.0 1803.8,630.1 1804.5,631.2 C1805.2,632.3 1805.9,633.4 1806.6,634.6 C1807.4,635.7 1808.1,636.8 1808.8,637.9 C1809.5,639.0 1810.2,640.1 1810.9,641.2 C1811.7,642.3 1812.4,643.5 1813.1,644.6 C1813.8,645.7 1814.6,646.8 1815.3,647.9 C1816.0,649.0 1816.7,650.1 1817.5,651.2 C1818.2,652.3 1818.9,653.4 1819.7,654.5 C1820.4,655.6 1821.1,656.7 1821.9,657.8 C1822.6,658.9 1823.3,660.0 1824.1,661.1 C1824.8,662.2 1825.6,663.3 1826.3,664.4 C1827.1,665.5 1827.8,666.6 1828.6,667.7 C1829.3,668.8 1830.1,669.9 1830.9,671.0 C1831.6,672.1 1832.4,673.1 1833.2,674.2 C1833.9,675.3 1834.7,676.4 1835.5,677.5 C1836.2,678.6 1837.0,679.6 1837.8,680.7 C1838.6,681.8 1839.4,682.9 1840.2,683.9 C1841.0,685.0 1841.8,686.1 1842.6,687.2 C1843.4,688.2 1844.2,689.3 1845.0,690.4 C1845.8,691.4 1846.6,692.5 1847.4,693.5 C1848.2,694.6 1849.0,695.7 1849.9,696.7 C1850.7,697.8 1851.5,698.8 1852.3,699.9 C1853.2,700.9 1854.0,702.0 1854.8,703.0 C1855.7,704.1 1856.5,705.1 1857.4,706.1 C1858.2,707.2 1859.1,708.2 1859.9,709.3 C1860.8,710.3 1861.6,711.3 1862.5,712.4 C1863.4,713.4 1864.2,714.4 1865.1,715.4 C1866.0,716.5 1866.8,717.5 1867.7,718.5 C1868.6,719.5 1869.5,720.5 1870.4,721.5 C1871.2,722.5 1872.1,723.5 1873.0,724.5 C1873.9,725.6 1874.8,726.6 1875.7,727.6 C1876.6,728.5 1877.5,729.5 1878.4,730.5 C1879.3,731.5 1880.2,732.5 1881.2,733.5 C1882.1,734.5 1883.0,735.5 1883.9,736.4 C1884.8,737.4 1885.8,738.4 1886.7,739.4 C1887.6,740.3 1888.6,741.3 1889.5,742.3 C1890.4,743.2 1891.4,744.2 1892.3,745.1 C1893.3,746.1 1894.2,747.0 1895.2,748.0 C1896.1,748.9 1897.1,749.9 1898.0,750.8 C1899.0,751.8 1899.9,752.7 1900.9,753.6 C1901.9,754.6 1902.9,755.5 1903.8,756.4 C1904.8,757.3 1905.8,758.2 1906.8,759.2 C1907.7,760.1 1908.7,761.0 1909.7,761.9 C1910.7,762.8 1911.7,763.7 1912.7,764.6 C1913.7,765.5 1914.7,766.4 1915.7,767.3 C1916.7,768.2 1917.7,769.0 1918.7,769.9 C1919.7,770.8 1920.7,771.7 1921.7,772.5 C1922.7,773.4 1923.8,774.3 1924.8,775.1 C1925.8,776.0 1926.8,776.9 1927.9,777.7 C1928.9,778.6 1929.9,779.4 1931.0,780.2 C1932.0,781.1 1933.0,781.9 1934.1,782.8 C1935.1,783.6 1936.2,784.4 1937.2,785.2 C1938.3,786.1 1939.3,786.9 1940.4,787.7 C1941.4,788.5 1942.5,789.3 1943.6,790.1 C1944.6,790.9 1945.7,791.7 1946.8,792.5 C1947.8,793.3 1948.9,794.1 1950.0,794.8 C1951.1,795.6 1952.2,796.4 1953.2,797.2 C1954.3,797.9 1955.4,798.7 1956.5,799.4 C1957.6,800.2 1958.7,801.0 1959.8,801.7 C1960.9,802.4 1962.0,803.2 1963.1,803.9 C1964.2,804.7 1965.3,805.4 1966.4,806.1 C1967.5,806.8 1968.6,807.5 1969.7,808.3 C1970.9,809.0 1972.0,809.7 1973.1,810.4 C1974.2,811.1 1975.3,811.8 1976.5,812.4 C1977.6,813.1 1978.7,813.8 1979.9,814.5 C1981.0,815.2 1982.1,815.8 1983.3,816.5 C1984.4,817.2 1985.6,817.8 1986.7,818.5 C1987.9,819.1 1989.0,819.7 1990.2,820.4 C1991.3,821.0 1992.5,821.7 1993.6,822.3 C1994.8,822.9 1996.0,823.5 1997.1,824.1 C1998.3,824.7 1999.5,825.3 2000.6,825.9 C2001.8,826.5 2003.0,827.1 2004.2,827.7 C2005.4,828.3 2006.5,828.9 2007.7,829.4 C2008.9,830.0 2010.1,830.6 2011.3,831.1 C2012.5,831.7 2013.7,832.2 2014.9,832.8 C2016.1,833.3 2017.3,833.9 2018.5,834.4 C2019.7,834.9 2020.9,835.4 2022.1,836.0 C2023.3,836.5 2024.5,837.0 2025.7,837.5 C2026.9,838.0 2028.1,838.5 2029.4,839.0 C2030.6,839.5 2031.8,840.0 2033.0,840.4 C2034.3,840.9 2035.5,841.4 2036.7,841.9 C2038.0,842.3 2039.2,842.8 2040.4,843.2 C2041.7,843.7 2042.9,844.1 2044.1,844.6 C2045.4,845.0 2046.6,845.5 2047.9,845.9 C2049.1,846.3 2050.4,846.7 2051.6,847.2 C2052.9,847.6 2054.2,848.0 2055.4,848.4 C2056.7,848.8 2057.9,849.2 2059.2,849.6 C2060.5,850.0 2061.7,850.4 2063.0,850.7 C2064.3,851.1 2065.6,851.5 2066.8,851.9 C2068.1,852.2 2069.4,852.6 2070.7,853.0 C2072.0,853.3 2073.2,853.7 2074.5,854.0 C2075.8,854.4 2077.1,854.7 2078.4,855.0 C2079.7,855.4 2081.0,855.7 2082.3,856.0 C2083.6,856.3 2084.9,856.7 2086.2,857.0 C2087.5,857.3 2088.8,857.6 2090.1,857.9 C2091.4,858.2 2092.7,858.5 2094.0,858.8 C2095.4,859.0 2096.7,859.3 2098.0,859.6 C2099.3,859.9 2100.6,860.2 2102.0,860.4 C2103.3,860.7 2104.6,860.9 2105.9,861.2 C2107.3,861.5 2108.6,861.7 2109.9,861.9 C2111.3,862.2 2112.6,862.4 2113.9,862.7 C2115.3,862.9 2116.6,863.1 2118.0,863.3 C2119.3,863.6 2120.7,863.8 2122.0,864.0" stroke="#00f" stroke-width="8"/>
<path d="M1081.0,254.0 C1081.7,258.0 1082.4,262.0 1083.0,266.0 C1084.0,272.3 1084.7,278.6 1086.0,284.8 C1087.1,289.9 1089.2,294.8 1090.1,300.0 C1092.2,311.4 1093.0,323.1 1095.0,334.6 C1097.0,346.2 1099.7,357.6 1101.9,369.1 C1104.0,380.6 1105.1,392.4 1107.9,403.7 C1109.4,409.7 1112.6,415.2 1114.8,421.0 C1116.7,426.0 1117.7,431.3 1120.0,436.0 C1121.2,438.5 1123.0,441.2 1125.2,442.6 C1126.7,443.6 1129.1,442.6 1131.0,443.0 C1133.2,443.5 1135.1,445.0 1137.3,445.2 C1140.7,445.5 1144.7,445.6 1147.7,444.3 C1150.3,443.2 1151.8,439.9 1154.0,438.0 C1155.8,436.5 1157.8,434.3 1159.8,433.9 C1161.1,433.6 1163.2,434.8 1164.0,436.0 C1165.6,438.5 1166.2,442.0 1167.0,445.0 C1167.9,448.5 1168.9,451.9 1169.3,455.5 C1170.8,467.0 1171.3,478.6 1172.7,490.1 C1173.7,498.4 1175.1,506.7 1176.5,515.0 C1177.5,520.7 1178.9,526.3 1180.0,532.0 C1181.4,538.7 1182.6,545.3 1184.0,552.0 C1185.1,557.5 1185.9,563.1 1187.5,568.4 C1188.7,572.2 1190.6,575.8 1192.3,579.4 C1194.1,583.0 1195.9,586.6 1198.0,590.0 C1199.8,592.8 1201.6,595.8 1204.0,598.0 C1205.6,599.5 1208.0,601.1 1210.0,601.0 C1213.2,600.8 1216.4,598.1 1219.7,597.0 C1223.6,595.7 1227.8,595.2 1231.8,594.0 C1237.6,592.2 1243.6,590.6 1249.1,588.0 C1255.1,585.2 1261.0,581.9 1266.4,578.0 C1271.4,574.4 1275.6,569.6 1280.2,565.5 C1283.4,562.6 1286.7,559.8 1290.0,557.0 C1292.4,555.0 1294.8,551.4 1297.5,551.2 C1300.5,551.0 1303.6,555.1 1307.0,556.0 C1310.5,557.0 1314.6,557.4 1318.2,556.9 C1324.1,556.0 1330.2,554.4 1335.5,551.7 C1341.7,548.6 1347.0,543.6 1352.8,539.6 C1358.6,535.6 1364.2,531.3 1370.1,527.5 C1375.7,523.9 1381.4,520.2 1387.4,517.5 C1392.9,515.0 1398.7,513.2 1404.6,512.0 C1410.2,510.8 1416.1,510.3 1421.9,510.2 C1427.7,510.2 1433.4,511.3 1439.2,511.7 C1445.0,512.0 1450.8,511.8 1456.5,512.3 C1460.4,512.6 1464.2,513.1 1468.0,514.0 C1472.1,515.0 1476.1,516.4 1480.0,518.0 C1484.8,520.0 1489.5,522.4 1494.0,525.0 C1498.9,527.8 1503.7,530.8 1508.2,534.3 C1516.2,540.5 1523.9,547.1 1531.3,553.9 C1539.3,561.3 1547.1,568.8 1554.3,576.9 C1562.5,586.1 1568.9,596.8 1577.4,605.7 C1584.3,613.0 1593.5,618.0 1600.4,625.3 C1608.9,634.2 1616.0,644.3 1623.5,654.1 C1631.4,664.3 1638.8,674.8 1646.5,685.2 C1654.2,695.6 1661.9,705.9 1669.5,716.3 C1678.1,728.1 1686.1,740.4 1695.0,752.0 C1702.9,762.2 1711.0,772.4 1720.0,781.6 C1727.0,788.7 1735.2,794.5 1743.0,800.7 C1750.5,806.7 1758.0,812.8 1766.1,818.0 C1773.4,822.7 1781.6,826.2 1789.1,830.6 C1796.9,835.2 1804.1,841.0 1812.2,844.9 C1819.4,848.3 1827.4,850.4 1835.2,852.5 C1842.7,854.5 1850.5,855.7 1858.2,857.1 C1865.9,858.4 1873.7,859.1 1881.3,860.6 C1889.0,862.2 1896.6,864.9 1904.3,866.4 C1911.9,867.9 1919.7,869.1 1927.4,869.8 C1935.0,870.4 1942.7,870.1 1950.4,870.3 C1953.6,870.4 1956.9,871.2 1960.0,870.6 C1963.6,869.9 1966.9,866.3 1970.4,866.4 C1975.5,866.6 1980.7,871.6 1985.9,871.6 C1991.1,871.6 1996.1,867.2 2001.5,866.4 C2008.2,865.3 2015.4,865.2 2022.2,865.9 C2025.8,866.3 2029.0,869.3 2032.6,869.5 C2037.7,869.8 2043.0,868.3 2048.1,867.5 C2053.3,866.6 2058.7,864.0 2063.7,864.4 C2067.4,864.7 2070.4,869.3 2074.1,869.5 C2080.8,869.8 2087.9,867.2 2094.8,865.9 C2101.1,864.7 2107.2,862.9 2113.5,861.8 C2116.3,861.3 2119.2,861.3 2122.0,861.0" stroke="#000" stroke-width="8"/>
<path d="M1176.0,8.0 C1176.2,9.3 1176.3,10.6 1176.5,12.0 C1176.7,13.3 1176.8,14.6 1177.0,15.9 C1177.2,17.3 1177.3,18.6 1177.5,19.9 C1177.7,21.2 1177.9,22.5 1178.0,23.9 C1178.2,25.2 1178.4,26.5 1178.6,27.8 C1178.7,29.1 1178.9,30.5 1179.1,31.8 C1179.3,33.1 1179.4,34.4 1179.6,35.7 C1179.8,37.1 1180.0,38.4 1180.2,39.7 C1180.4,41.0 1180.5,42.3 1180.7,43.7 C1180.9,45.0 1181.1,46.3 1181.3,47.6 C1181.5,48.9 1181.7,50.2 1181.8,51.6 C1182.0,52.9 1182.2,54.2 1182.4,55.5 C1182.6,56.8 1182.8,58.2 1183.0,59.5 C1183.2,60.8 1183.4,62.1 1183.6,63.4 C1183.8,64.7 1184.0,66.1 1184.2,67.4 C1184.3,68.7 1184.5,70.0 1184.7,71.3 C1184.9,72.7 1185.1,74.0 1185.3,75.3 C1185.5,76.6 1185.7,77.9 1185.9,79.2 C1186.1,80.6 1186.3,81.9 1186.5,83.2 C1186.7,84.5 1186.9,85.8 1187.2,87.1 C1187.4,88.4 1187.6,89.8 1187.8,91.1 C1188.0,92.4 1188.2,93.7 1188.4,95.0 C1188.6,96.3 1188.8,97.7 1189.0,99.0 C1189.2,100.3 1189.4,101.6 1189.6,102.9 C1189.8,104.2 1190.1,105.6 1190.3,106.9 C1190.5,108.2 1190.7,109.5 1190.9,110.8 C1191.1,112.1 1191.3,113.4 1191.5,114.8 C1191.8,116.1 1192.0,117.4 1192.2,118.7 C1192.4,120.0 1192.6,121.3 1192.8,122.6 C1193.0,124.0 1193.3,125.3 1193.5,126.6 C1193.7,127.9 1193.9,129.2 1194.1,130.5 C1194.3,131.8 1194.6,133.2 1194.8,134.5 C1195.0,135.8 1195.2,137.1 1195.4,138.4 C1195.6,139.7 1195.9,141.0 1196.1,142.3 C1196.3,143.7 1196.5,145.0 1196.7,146.3 C1197.0,147.6 1197.2,148.9 1197.4,150.2 C1197.6,151.5 1197.8,152.8 1198.1,154.2 C1198.3,155.5 1198.5,156.8 1198.7,158.1 C1199.0,159.4 1199.2,160.7 1199.4,162.0 C1199.6,163.3 1199.9,164.7 1200.1,166.0 C1200.3,167.3 1200.5,168.6 1200.7,169.9 C1201.0,171.2 1201.2,172.5 1201.4,173.8 C1201.6,175.2 1201.9,176.5 1202.1,177.8 C1202.3,179.1 1202.5,180.4 1202.8,181.7 C1203.0,183.0 1203.2,184.3 1203.4,185.6 C1203.7,187.0 1203.9,188.3 1204.1,189.6 C1204.3,190.9 1204.6,192.2 1204.8,193.5 C1205.0,194.8 1205.2,196.1 1205.5,197.4 C1205.7,198.8 1205.9,200.1 1206.1,201.4 C1206.4,202.7 1206.6,204.0 1206.8,205.3 C1207.0,206.6 1207.3,207.9 1207.5,209.2 C1207.7,210.6 1208.0,211.9 1208.2,213.2 C1208.4,214.5 1208.6,215.8 1208.9,217.1 C1209.1,218.4 1209.3,219.7 1209.6,221.0 C1209.8,222.3 1210.0,223.7 1210.2,225.0 C1210.5,226.3 1210.7,227.6 1210.9,228.9 C1211.2,230.2 1211.4,231.5 1211.6,232.8 C1211.8,234.1 1212.1,235.5 1212.3,236.8 C1212.5,238.1 1212.8,239.4 1213.0,240.7 C1213.2,242.0 1213.5,243.3 1213.7,244.6 C1213.9,245.9 1214.1,247.2 1214.4,248.5 C1214.6,249.9 1214.8,251.2 1215.1,252.5 C1215.3,253.8 1215.5,255.1 1215.8,256.4 C1216.0,257.7 1216.2,259.0 1216.5,260.3 C1216.7,261.6 1216.9,263.0 1217.2,264.3 C1217.4,265.6 1217.6,266.9 1217.9,268.2 C1218.1,269.5 1218.3,270.8 1218.6,272.1 C1218.8,273.4 1219.0,274.7 1219.3,276.0 C1219.5,277.4 1219.7,278.7 1220.0,280.0 C1220.2,281.3 1220.5,282.6 1220.7,283.9 C1220.9,285.2 1221.2,286.5 1221.4,287.8 C1221.6,289.1 1221.9,290.5 1222.1,291.8 C1222.3,293.1 1222.6,294.4 1222.8,295.7 C1223.1,297.0 1223.3,298.3 1223.5,299.6 C1223.8,300.9 1224.0,302.2 1224.3,303.5 C1224.5,304.9 1224.7,306.2 1225.0,307.5 C1225.2,308.8 1225.4,310.1 1225.7,311.4 C1225.9,312.7 1226.2,314.0 1226.4,315.3 C1226.7,316.6 1226.9,317.9 1227.1,319.3 C1227.4,320.6 1227.6,321.9 1227.9,323.2 C1228.1,324.5 1228.3,325.8 1228.6,327.1 C1228.8,328.4 1229.1,329.7 1229.3,331.0 C1229.6,332.3 1229.8,333.7 1230.0,335.0 C1230.3,336.3 1230.5,337.6 1230.8,338.9 C1231.0,340.2 1231.3,341.5 1231.5,342.8 C1231.8,344.1 1232.0,345.4 1232.3,346.8 C1232.5,348.1 1232.7,349.4 1233.0,350.7 C1233.2,352.0 1233.5,353.3 1233.7,354.6 C1234.0,355.9 1234.2,357.2 1234.5,358.5 C1234.7,359.8 1235.0,361.2 1235.2,362.5 C1235.5,363.8 1235.7,365.1 1236.0,366.4 C1236.2,367.7 1236.5,369.0 1236.7,370.3 C1237.0,371.6 1237.2,372.9 1237.5,374.3 C1237.7,375.6 1238.0,376.9 1238.2,378.2 C1238.5,379.5 1238.7,380.8 1239.0,382.1 C1239.2,383.4 1239.5,384.7 1239.7,386.0 C1240.0,387.4 1240.3,388.7 1240.5,390.0 C1240.8,391.3 1241.0,392.6 1241.3,393.9 C1241.5,395.2 1241.8,396.5 1242.1,397.8 C1242.3,399.1 1242.6,400.4 1242.8,401.8 C1243.1,403.1 1243.4,404.4 1243.6,405.7 C1243.9,407.0 1244.1,408.3 1244.4,409.6 C1244.7,410.9 1244.9,412.2 1245.2,413.5 C1245.5,414.8 1245.8,416.1 1246.0,417.4 C1246.3,418.8 1246.6,420.1 1246.8,421.4 C1247.1,422.7 1247.4,424.0 1247.7,425.3 C1248.0,426.6 1248.2,427.9 1248.5,429.2 C1248.8,430.5 1249.1,431.8 1249.4,433.1 C1249.7,434.4 1249.9,435.7 1250.2,437.0 C1250.5,438.3 1250.8,439.6 1251.1,440.9 C1251.4,442.2 1251.7,443.5 1252.0,444.8 C1252.3,446.1 1252.6,447.4 1252.9,448.7 C1253.2,450.0 1253.5,451.3 1253.8,452.6 C1254.1,453.9 1254.4,455.2 1254.8,456.4 C1255.1,457.7 1255.4,459.0 1255.7,460.3 C1256.0,461.6 1256.3,462.9 1256.7,464.2 C1257.0,465.5 1257.3,466.8 1257.7,468.0 C1258.0,469.3 1258.3,470.6 1258.7,471.9 C1259.0,473.2 1259.3,474.5 1259.7,475.7 C1260.0,477.0 1260.4,478.3 1260.7,479.6 C1261.1,480.9 1261.4,482.1 1261.8,483.4 C1262.1,484.7 1262.5,486.0 1262.9,487.2 C1263.2,488.5 1263.6,489.8 1264.0,491.1 C1264.4,492.3 1264.7,493.6 1265.1,494.9 C1265.5,496.1 1265.9,497.4 1266.3,498.7 C1266.7,499.9 1267.0,501.2 1267.4,502.5 C1267.8,503.7 1268.2,505.0 1268.6,506.3 C1269.0,507.5 1269.5,508.8 1269.9,510.0 C1270.3,511.3 1270.7,512.5 1271.1,513.8 C1271.5,515.1 1272.0,516.3 1272.4,517.6 C1272.8,518.8 1273.3,520.1 1273.7,521.3 C1274.1,522.6 1274.6,523.8 1275.0,525.0 C1275.5,526.3 1275.9,527.5 1276.4,528.8 C1276.9,530.0 1277.3,531.3 1277.8,532.5 C1278.3,533.7 1278.7,535.0 1279.2,536.2 C1279.7,537.5 1280.2,538.7 1280.7,539.9 C1281.2,541.2 1281.7,542.4 1282.2,543.6 C1282.7,544.8 1283.2,546.1 1283.7,547.3 C1284.2,548.5 1284.7,549.8 1285.2,551.0 C1285.8,552.2 1286.3,553.4 1286.8,554.6 C1287.4,555.9 1287.9,557.1 1288.4,558.3 C1289.0,559.5 1289.5,560.7 1290.1,562.0 C1290.6,563.2 1291.2,564.4 1291.8,565.6 C1292.4,566.8 1292.9,568.0 1293.5,569.2 C1294.1,570.4 1294.7,571.7 1295.3,572.9 C1295.9,574.1 1296.5,575.3 1297.1,576.5 C1297.7,577.7 1298.3,578.9 1298.9,580.1 C1299.5,581.3 1300.2,582.5 1300.8,583.7 C1301.4,584.9 1302.1,586.1 1302.7,587.3 C1303.4,588.5 1304.0,589.6 1304.7,590.8 C1305.3,592.0 1306.0,593.2 1306.7,594.4 C1307.4,595.5 1308.1,596.7 1308.8,597.9 C1309.5,599.0 1310.2,600.2 1310.9,601.3 C1311.6,602.5 1312.3,603.6 1313.1,604.7 C1313.8,605.8 1314.6,606.9 1315.4,608.0 C1316.1,609.1 1316.9,610.2 1317.7,611.3 C1318.5,612.3 1319.3,613.4 1320.2,614.4 C1321.0,615.5 1321.8,616.5 1322.7,617.5 C1323.6,618.5 1324.4,619.5 1325.3,620.5 C1326.2,621.4 1327.1,622.4 1328.1,623.3 C1329.0,624.2 1329.9,625.1 1330.9,626.0 C1331.9,626.9 1332.8,627.7 1333.8,628.6 C1334.9,629.4 1335.9,630.2 1336.9,631.0 C1338.0,631.8 1339.0,632.5 1340.1,633.3 C1341.2,634.0 1342.3,634.7 1343.4,635.4 C1344.5,636.1 1345.7,636.7 1346.8,637.3 C1348.0,638.0 1349.2,638.6 1350.4,639.1 C1351.5,639.7 1352.7,640.2 1353.9,640.8 C1355.2,641.3 1356.4,641.8 1357.6,642.2 C1358.9,642.7 1360.1,643.1 1361.4,643.6 C1362.6,644.0 1363.9,644.4 1365.2,644.7 C1366.5,645.1 1367.7,645.4 1369.0,645.7 C1370.3,646.0 1371.6,646.3 1372.9,646.5 C1374.3,646.8 1375.6,647.0 1376.9,647.2 C1378.2,647.4 1379.5,647.6 1380.8,647.7 C1382.2,647.9 1383.5,648.0 1384.8,648.1 C1386.1,648.2 1387.5,648.2 1388.8,648.3 C1390.1,648.3 1391.5,648.3 1392.8,648.3 C1394.1,648.3 1395.4,648.2 1396.8,648.1 C1398.1,648.1 1399.4,648.0 1400.7,647.8 C1402.0,647.7 1403.3,647.5 1404.6,647.4 C1405.9,647.2 1407.2,647.0 1408.5,646.7 C1409.8,646.5 1411.1,646.2 1412.4,645.9 C1413.7,645.6 1414.9,645.3 1416.2,645.0 C1417.5,644.6 1418.7,644.3 1420.0,643.9 C1421.3,643.5 1422.5,643.1 1423.7,642.6 C1425.0,642.2 1426.2,641.8 1427.5,641.3 C1428.7,640.8 1429.9,640.3 1431.2,639.8 C1432.4,639.3 1433.6,638.8 1434.8,638.3 C1436.0,637.7 1437.2,637.1 1438.4,636.6 C1439.7,636.0 1440.9,635.4 1442.0,634.8 C1443.2,634.2 1444.4,633.6 1445.6,632.9 C1446.8,632.3 1448.0,631.7 1449.2,631.0 C1450.3,630.3 1451.5,629.7 1452.7,629.0 C1453.8,628.3 1455.0,627.6 1456.2,626.9 C1457.3,626.2 1458.5,625.5 1459.6,624.8 C1460.8,624.1 1461.9,623.3 1463.1,622.6 C1464.2,621.9 1465.4,621.1 1466.5,620.4 C1467.6,619.7 1468.8,618.9 1469.9,618.2 C1471.0,617.4 1472.2,616.6 1473.3,615.9 C1474.4,615.1 1475.5,614.4 1476.6,613.6 C1477.8,612.8 1478.9,612.1 1480.0,611.3 C1481.1,610.5 1482.2,609.7 1483.3,609.0 C1484.4,608.2 1485.5,607.4 1486.6,606.7 C1487.7,605.9 1488.8,605.1 1489.9,604.3 C1491.0,603.6 1492.1,602.8 1493.2,602.0 C1494.3,601.3 1495.4,600.5 1496.5,599.7 C1497.6,599.0 1498.7,598.2 1499.7,597.4 C1500.8,596.7 1501.9,595.9 1503.0,595.2 C1504.1,594.4 1505.2,593.6 1506.2,592.9 C1507.3,592.1 1508.4,591.3 1509.5,590.6 C1510.5,589.8 1511.6,589.0 1512.7,588.3 C1513.8,587.5 1514.8,586.7 1515.9,586.0 C1517.0,585.2 1518.1,584.5 1519.1,583.7 C1520.2,582.9 1521.3,582.2 1522.4,581.4 C1523.4,580.6 1524.5,579.9 1525.6,579.1 C1526.6,578.3 1527.7,577.6 1528.8,576.8 C1529.9,576.0 1530.9,575.3 1532.0,574.5 C1533.1,573.7 1534.1,573.0 1535.2,572.2 C1536.3,571.4 1537.4,570.7 1538.4,569.9 C1539.5,569.2 1540.6,568.4 1541.7,567.6 C1542.7,566.9 1543.8,566.1 1544.9,565.4 C1546.0,564.6 1547.0,563.9 1548.1,563.2 C1549.2,562.4 1550.3,561.7 1551.4,561.0 C1552.4,560.3 1553.5,559.6 1554.6,558.9 C1555.7,558.2 1556.8,557.5 1557.9,556.8 C1559.0,556.1 1560.1,555.4 1561.1,554.7 C1562.2,554.1 1563.3,553.4 1564.4,552.7 C1565.5,552.0 1566.6,551.3 1567.7,550.7 C1568.8,550.0 1569.9,549.3 1571.0,548.6 C1572.1,547.9 1573.3,547.2 1574.4,546.5 C1575.5,545.8 1576.6,545.0 1577.7,544.3 C1578.8,543.6 1580.0,542.8 1581.1,542.1 C1582.2,541.3 1583.3,540.5 1584.5,539.8 C1585.6,539.0 1586.7,538.2 1587.9,537.4 C1589.0,536.6 1590.1,535.8 1591.3,535.0 C1592.4,534.3 1593.6,533.5 1594.7,532.7 C1595.9,531.9 1597.0,531.1 1598.2,530.3 C1599.4,529.6 1600.5,528.8 1601.7,528.0 C1602.9,527.3 1604.0,526.5 1605.2,525.8 C1606.4,525.0 1607.6,524.3 1608.8,523.6 C1609.9,522.9 1611.1,522.2 1612.3,521.5 C1613.5,520.8 1614.7,520.1 1615.9,519.5 C1617.1,518.8 1618.3,518.2 1619.6,517.6 C1620.8,517.0 1622.0,516.5 1623.2,515.9 C1624.5,515.4 1625.7,514.8 1626.9,514.4 C1628.2,513.9 1629.4,513.4 1630.7,513.0 C1631.9,512.5 1633.2,512.1 1634.4,511.7 C1635.7,511.4 1636.9,511.0 1638.2,510.7 C1639.5,510.3 1640.7,510.0 1642.0,509.8 C1643.3,509.5 1644.6,509.2 1645.9,509.0 C1647.1,508.8 1648.4,508.6 1649.7,508.4 C1651.0,508.2 1652.3,508.0 1653.6,507.9 C1654.9,507.8 1656.2,507.6 1657.5,507.6 C1658.7,507.5 1660.0,507.4 1661.3,507.4 C1662.6,507.3 1663.9,507.3 1665.2,507.3 C1666.5,507.3 1667.8,507.3 1669.1,507.3 C1670.5,507.4 1671.8,507.4 1673.1,507.5 C1674.4,507.6 1675.7,507.7 1677.0,507.8 C1678.3,507.9 1679.6,508.1 1680.9,508.2 C1682.2,508.4 1683.5,508.6 1684.8,508.8 C1686.1,509.0 1687.4,509.2 1688.7,509.4 C1690.0,509.6 1691.3,509.9 1692.6,510.1 C1693.9,510.4 1695.2,510.7 1696.5,511.0 C1697.8,511.3 1699.0,511.6 1700.3,511.9 C1701.6,512.2 1702.9,512.6 1704.2,512.9 C1705.5,513.3 1706.7,513.7 1708.0,514.1 C1709.3,514.5 1710.6,514.9 1711.8,515.3 C1713.1,515.7 1714.4,516.1 1715.6,516.6 C1716.9,517.0 1718.1,517.5 1719.4,517.9 C1720.6,518.4 1721.9,518.9 1723.1,519.4 C1724.4,519.9 1725.6,520.4 1726.8,520.9 C1728.1,521.4 1729.3,521.9 1730.5,522.5 C1731.7,523.0 1733.0,523.6 1734.2,524.1 C1735.4,524.7 1736.6,525.3 1737.8,525.8 C1739.0,526.4 1740.2,527.0 1741.4,527.6 C1742.6,528.2 1743.8,528.8 1745.0,529.5 C1746.2,530.1 1747.4,530.7 1748.5,531.4 C1749.7,532.0 1750.9,532.7 1752.1,533.3 C1753.2,534.0 1754.4,534.6 1755.5,535.3 C1756.7,536.0 1757.9,536.7 1759.0,537.4 C1760.2,538.1 1761.3,538.8 1762.4,539.5 C1763.6,540.2 1764.7,540.9 1765.8,541.6 C1767.0,542.4 1768.1,543.1 1769.2,543.8 C1770.3,544.6 1771.5,545.3 1772.6,546.1 C1773.7,546.8 1774.8,547.6 1775.9,548.3 C1777.0,549.1 1778.1,549.9 1779.2,550.6 C1780.3,551.4 1781.4,552.2 1782.4,553.0 C1783.5,553.8 1784.6,554.6 1785.7,555.4 C1786.7,556.2 1787.8,557.0 1788.9,557.8 C1789.9,558.6 1791.0,559.4 1792.0,560.2 C1793.1,561.0 1794.1,561.8 1795.2,562.6 C1796.2,563.5 1797.3,564.3 1798.3,565.1 C1799.3,566.0 1800.4,566.8 1801.4,567.7 C1802.4,568.5 1803.4,569.3 1804.5,570.2 C1805.5,571.1 1806.5,571.9 1807.5,572.8 C1808.5,573.6 1809.5,574.5 1810.5,575.4 C1811.5,576.2 1812.5,577.1 1813.5,578.0 C1814.5,578.9 1815.5,579.7 1816.5,580.6 C1817.5,581.5 1818.5,582.4 1819.4,583.3 C1820.4,584.2 1821.4,585.1 1822.4,586.0 C1823.3,586.9 1824.3,587.8 1825.3,588.7 C1826.2,589.6 1827.2,590.5 1828.2,591.4 C1829.1,592.3 1830.1,593.3 1831.0,594.2 C1832.0,595.1 1832.9,596.0 1833.9,596.9 C1834.8,597.9 1835.8,598.8 1836.7,599.7 C1837.7,600.7 1838.6,601.6 1839.5,602.5 C1840.5,603.5 1841.4,604.4 1842.4,605.4 C1843.3,606.3 1844.2,607.3 1845.1,608.2 C1846.1,609.1 1847.0,610.1 1847.9,611.1 C1848.8,612.0 1849.8,613.0 1850.7,613.9 C1851.6,614.9 1852.5,615.8 1853.4,616.8 C1854.3,617.8 1855.3,618.7 1856.2,619.7 C1857.1,620.7 1858.0,621.6 1858.9,622.6 C1859.8,623.6 1860.7,624.6 1861.6,625.5 C1862.5,626.5 1863.4,627.5 1864.3,628.5 C1865.2,629.4 1866.1,630.4 1867.0,631.4 C1867.9,632.4 1868.8,633.4 1869.7,634.4 C1870.6,635.3 1871.5,636.3 1872.4,637.3 C1873.3,638.3 1874.2,639.3 1875.0,640.3 C1875.9,641.3 1876.8,642.3 1877.7,643.3 C1878.6,644.3 1879.5,645.3 1880.4,646.2 C1881.3,647.2 1882.1,648.2 1883.0,649.2 C1883.9,650.2 1884.8,651.2 1885.7,652.2 C1886.6,653.2 1887.4,654.2 1888.3,655.2 C1889.2,656.2 1890.1,657.2 1891.0,658.2 C1891.9,659.2 1892.7,660.2 1893.6,661.2 C1894.5,662.2 1895.4,663.2 1896.3,664.2 C1897.1,665.2 1898.0,666.2 1898.9,667.2 C1899.8,668.2 1900.7,669.2 1901.5,670.2 C1902.4,671.2 1903.3,672.2 1904.2,673.2 C1905.1,674.2 1906.0,675.2 1906.8,676.2 C1907.7,677.2 1908.6,678.2 1909.5,679.2 C1910.4,680.2 1911.2,681.2 1912.1,682.2 C1913.0,683.2 1913.9,684.2 1914.8,685.2 C1915.7,686.2 1916.6,687.2 1917.4,688.2 C1918.3,689.2 1919.2,690.2 1920.1,691.2 C1921.0,692.2 1921.9,693.2 1922.8,694.2 C1923.7,695.2 1924.6,696.2 1925.5,697.2 C1926.3,698.1 1927.2,699.1 1928.1,700.1 C1929.0,701.1 1929.9,702.1 1930.8,703.1 C1931.7,704.1 1932.6,705.0 1933.5,706.0 C1934.4,707.0 1935.3,708.0 1936.2,709.0 C1937.2,709.9 1938.1,710.9 1939.0,711.9 C1939.9,712.9 1940.8,713.8 1941.7,714.8 C1942.6,715.8 1943.5,716.7 1944.4,717.7 C1945.4,718.7 1946.3,719.6 1947.2,720.6 C1948.1,721.6 1949.0,722.5 1950.0,723.5 C1950.9,724.4 1951.8,725.4 1952.8,726.3 C1953.7,727.3 1954.6,728.2 1955.6,729.2 C1956.5,730.1 1957.4,731.1 1958.4,732.0 C1959.3,733.0 1960.3,733.9 1961.2,734.8 C1962.2,735.8 1963.1,736.7 1964.1,737.6 C1965.0,738.6 1966.0,739.5 1966.9,740.4 C1967.9,741.3 1968.8,742.3 1969.8,743.2 C1970.8,744.1 1971.7,745.0 1972.7,745.9 C1973.7,746.8 1974.7,747.7 1975.6,748.6 C1976.6,749.6 1977.6,750.5 1978.6,751.4 C1979.6,752.2 1980.5,753.1 1981.5,754.0 C1982.5,754.9 1983.5,755.8 1984.5,756.7 C1985.5,757.6 1986.5,758.4 1987.5,759.3 C1988.5,760.2 1989.6,761.1 1990.6,761.9 C1991.6,762.8 1992.6,763.7 1993.6,764.5 C1994.6,765.4 1995.7,766.2 1996.7,767.1 C1997.7,767.9 1998.8,768.8 1999.8,769.6 C2000.8,770.4 2001.9,771.3 2002.9,772.1 C2003.9,772.9 2005.0,773.8 2006.0,774.6 C2007.1,775.4 2008.1,776.2 2009.2,777.0 C2010.3,777.8 2011.3,778.6 2012.4,779.4 C2013.5,780.2 2014.5,781.0 2015.6,781.8 C2016.7,782.6 2017.7,783.4 2018.8,784.2 C2019.9,785.0 2021.0,785.7 2022.1,786.5 C2023.2,787.3 2024.2,788.0 2025.3,788.8 C2026.4,789.5 2027.5,790.3 2028.6,791.0 C2029.7,791.8 2030.8,792.5 2032.0,793.3 C2033.1,794.0 2034.2,794.7 2035.3,795.4 C2036.4,796.2 2037.5,796.9 2038.6,797.6 C2039.8,798.3 2040.9,799.0 2042.0,799.7 C2043.2,800.4 2044.3,801.1 2045.4,801.8 C2046.6,802.5 2047.7,803.1 2048.9,803.8 C2050.0,804.5 2051.2,805.1 2052.3,805.8 C2053.5,806.5 2054.6,807.1 2055.8,807.7 C2056.9,808.4 2058.1,809.0 2059.3,809.7 C2060.4,810.3 2061.6,810.9 2062.8,811.5 C2064.0,812.1 2065.1,812.7 2066.3,813.3 C2067.5,813.9 2068.7,814.5 2069.9,815.1 C2071.1,815.7 2072.3,816.3 2073.4,816.9 C2074.6,817.4 2075.8,818.0 2077.1,818.5 C2078.3,819.1 2079.5,819.7 2080.7,820.2 C2081.9,820.7 2083.1,821.3 2084.3,821.8 C2085.5,822.3 2086.8,822.8 2088.0,823.3 C2089.2,823.8 2090.4,824.3 2091.7,824.8 C2092.9,825.3 2094.2,825.8 2095.4,826.3 C2096.6,826.7 2097.9,827.2 2099.1,827.7 C2100.4,828.1 2101.6,828.6 2102.9,829.0 C2104.1,829.4 2105.4,829.9 2106.7,830.3 C2107.9,830.7 2109.2,831.1 2110.5,831.5 C2111.7,831.9 2113.0,832.3 2114.3,832.7 C2115.6,833.1 2116.8,833.5 2118.1,833.9 C2119.4,834.3 2120.7,834.6 2122.0,835.0" stroke="#f00" stroke-width="8"/>
</g>
<g fill="#000" shape-rendering="crispEdges">
<rect x="275" y="10" width="1845" height="7"/>
<rect x="275" y="1493" width="1845" height="7"/>
<rect x="275" y="10" width="7" height="1490"/>
<rect x="2114" y="10" width="6.5" height="1490"/>
<rect x="249" y="1479.25" width="27" height="6.5"/>
<rect x="264" y="1338.00" width="12" height="6.5"/>
<rect x="249" y="1196.75" width="27" height="6.5"/>
<rect x="264" y="1055.50" width="12" height="6.5"/>
<rect x="249" y="914.25" width="27" height="6.5"/>
<rect x="264" y="773.00" width="12" height="6.5"/>
<rect x="249" y="631.75" width="27" height="6.5"/>
<rect x="264" y="490.50" width="12" height="6.5"/>
<rect x="249" y="349.25" width="27" height="6.5"/>
<rect x="264" y="208.00" width="12" height="6.5"/>
<rect x="249" y="66.75" width="27" height="6.5"/>
<rect x="298.36" y="1499" width="6.5" height="12"/>
<rect x="416.25" y="1499" width="6.5" height="27"/>
<rect x="534.14" y="1499" width="6.5" height="12"/>
<rect x="652.03" y="1499" width="6.5" height="27"/>
<rect x="769.93" y="1499" width="6.5" height="12"/>
<rect x="887.82" y="1499" width="6.5" height="27"/>
<rect x="1005.71" y="1499" width="6.5" height="12"/>
<rect x="1123.61" y="1499" width="6.5" height="27"/>
<rect x="1241.50" y="1499" width="6.5" height="12"/>
<rect x="1359.39" y="1499" width="6.5" height="27"/>
<rect x="1477.28" y="1499" width="6.5" height="12"/>
<rect x="1595.17" y="1499" width="6.5" height="27"/>
<rect x="1713.07" y="1499" width="6.5" height="12"/>
<rect x="1830.96" y="1499" width="6.5" height="27"/>
<rect x="1948.85" y="1499" width="6.5" height="12"/>
<rect x="2066.74" y="1499" width="6.5" height="27"/>
<rect x="1077" y="10" width="5" height="934"/>
<rect x="1077" y="939" width="1043" height="5"/>
<rect x="1059" y="889.00" width="19" height="5"/>
<rect x="1063" y="789.12" width="15" height="5"/>
<rect x="1059" y="689.25" width="19" height="5"/>
<rect x="1063" y="589.38" width="15" height="5"/>
<rect x="1059" y="489.50" width="19" height="5"/>
<rect x="1063" y="389.62" width="15" height="5"/>
<rect x="1059" y="289.75" width="19" height="5"/>
<rect x="1063" y="189.87" width="15" height="5"/>
<rect x="1059" y="90.00" width="19" height="5"/>
<rect x="1103.17" y="943" width="5" height="15"/>
<rect x="1233.00" y="943" width="5" height="18"/>
<rect x="1362.83" y="943" width="5" height="15"/>
<rect x="1492.66" y="943" width="5" height="18"/>
<rect x="1622.50" y="943" width="5" height="15"/>
<rect x="1752.33" y="943" width="5" height="18"/>
<rect x="1882.16" y="943" width="5" height="15"/>
<rect x="2011.99" y="943" width="5" height="18"/>
</g>
<g font-family="Liberation Sans, sans-serif" fill="#000">
<text x="230" y="1502.0" font-size="64" text-anchor="end">0.0</text>
<text x="230" y="1219.5" font-size="64" text-anchor="end">0.2</text>
<text x="230" y="937.0" font-size="64" text-anchor="end">0.4</text>
<text x="230" y="654.5" font-size="64" text-anchor="end">0.6</text>
<text x="230" y="372.0" font-size="64" text-anchor="end">0.8</text>
<text x="230" y="89.5" font-size="64" text-anchor="end">1.0</text>
<text x="419.5" y="1595" font-size="64" text-anchor="middle">250</text>
<text x="655.3" y="1595" font-size="64" text-anchor="middle">300</text>
<text x="891.1" y="1595" font-size="64" text-anchor="middle">350</text>
<text x="1126.9" y="1595" font-size="64" text-anchor="middle">400</text>
<text x="1362.6" y="1595" font-size="64" text-anchor="middle">450</text>
<text x="1598.4" y="1595" font-size="64" text-anchor="middle">500</text>
<text x="1834.2" y="1595" font-size="64" text-anchor="middle">550</text>
<text x="2070.0" y="1595" font-size="64" text-anchor="middle">600</text>
<text x="1046" y="907.0" font-size="54" text-anchor="end">0.00</text>
<text x="1046" y="707.2" font-size="54" text-anchor="end">0.02</text>
<text x="1046" y="507.5" font-size="54" text-anchor="end">0.04</text>
<text x="1046" y="307.8" font-size="54" text-anchor="end">0.06</text>
<text x="1046" y="108.0" font-size="54" text-anchor="end">0.08</text>
<text x="1235.5" y="1016" font-size="54" text-anchor="middle">350</text>
<text x="1495.2" y="1016" font-size="54" text-anchor="middle">400</text>
<text x="1754.8" y="1016" font-size="54" text-anchor="middle">450</text>
<text x="2014.5" y="1016" font-size="54" text-anchor="middle">500</text>
<text transform="translate(80.5,700.3) rotate(-90)" font-size="78" text-anchor="middle">Normalized Abs</text>
<text transform="translate(901.5,478.3) rotate(-90)" font-size="66" text-anchor="middle">Normalized Abs</text>
<text x="1091" y="1721" font-size="70" font-family="Noto Serif CJK SC, Liberation Serif, serif">λ</text>
<text x="1155" y="1720.5" font-size="75">/</text>
<text x="1198" y="1720.5" font-size="77">nm</text>
<text x="1507.4" y="1121.3" font-size="60" font-family="Noto Serif CJK SC, Liberation Serif, serif">λ</text>
<text x="1562" y="1120.5" font-size="64.5">/</text>
<text x="1598.7" y="1121.8" font-size="64.5">nm</text>
<line x1="1845" y1="122.3" x2="1995" y2="122.3" stroke="#000" stroke-width="9" stroke-linecap="round"/>
<text x="2013" y="146.3" font-size="68.5" font-weight="bold">1</text>
<line x1="1845" y1="206.4" x2="1995" y2="206.4" stroke="#00f" stroke-width="9" stroke-linecap="round"/>
<text x="2013" y="230.4" font-size="68.5" font-weight="bold">2</text>
<line x1="1845" y1="290.3" x2="1995" y2="290.3" stroke="#f00" stroke-width="9" stroke-linecap="round"/>
<text x="2013" y="314.3" font-size="68.5" font-weight="bold">3</text>
</g>
</svg>
</body></html>
